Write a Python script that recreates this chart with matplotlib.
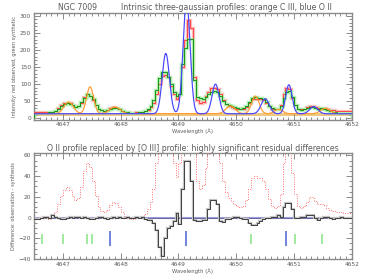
import numpy as np
import matplotlib
matplotlib.use("Agg")
import matplotlib.pyplot as plt
from matplotlib.ticker import MultipleLocator

# wavelength bins (Angstrom)
W0, DW = 4646.5, 0.05

# observed spectrum (red) per bin
obs = [17, 17, 17, 17, 17, 16, 18, 22, 30, 38,
       44, 46, 44, 38, 34, 36, 46, 62, 70, 66,
       52, 38, 27, 23, 22, 24, 29, 32, 31, 27,
       22, 18, 17, 16, 16, 17, 17, 18, 20, 25,
       32, 45, 70, 100, 125, 128, 120, 95, 70, 56,
       70, 150, 230, 288, 265, 120, 52, 45, 48, 65,
       78, 88, 90, 85, 70, 52, 42, 36, 33, 30,
       28, 27, 28, 34, 45, 55, 57, 55, 55, 52,
       45, 35, 28, 26, 28, 40, 70, 90, 85, 60,
       40, 28, 26, 28, 32, 37, 37, 33, 30, 30,
       29, 26, 24, 23, 22, 22, 22, 21, 21, 21]

# synthetic spectrum (green) per bin
syn = [15, 15, 15, 15, 16, 17, 18, 21, 28, 36,
       42, 45, 43, 38, 33, 37, 47, 60, 70, 65,
       55, 40, 28, 24, 22, 25, 28, 31, 31, 27,
       22, 19, 17, 16, 16, 16, 17, 18, 21, 27,
       35, 52, 82, 118, 135, 136, 122, 100, 78, 64,
       72, 160, 205, 232, 232, 112, 62, 58, 57, 62,
       72, 78, 80, 78, 65, 50, 42, 38, 35, 32,
       30, 28, 29, 36, 48, 58, 62, 60, 58, 55,
       48, 37, 30, 27, 28, 36, 60, 78, 80, 62,
       40, 27, 25, 28, 30, 33, 34, 31, 28, 29,
       27, 25, 21, 18, 17, 16, 16, 15, 15, 15]

# residual: observation - synthesis ([O III] profile for O II)
resid = [-1, -1, 0, 1, 1, 0, 2, 1, 0, -1,
         -1, 0, 1, 0, 1, 1, 0, 1, 0, -1,
         -1, 0, 1, 1, 0, -1, 0, 1, 0, 1,
         0, 0, 1, 0, 0, 1, 0, 1, -1, -2,
         -2, -5, -12, -28, -37, -20, -10, -8, -3, 4,
         -6, 28, 55, 55, 35, -2, -3, -3, -2, -2,
         8, 17, 17, 13, -3, -4, -1, -1, 0, 1,
         1, 0, -1, -1, -5, -7, -7, -5, -3, -1,
         0, 0, 1, 1, 2, 1, 10, 14, 14, 8,
         0, 0, 1, 1, 2, 2, 2, 0, -2, 0,
         1, 1, 0, -1, 0, 0, 1, 0, 0, 0]

CONT = 13.0        # continuum under intrinsic profiles
CONT_RES = 17.0    # continuum removed for dotted curve
BASE = 11.0        # thick baseline

# intrinsic gaussian components: centre, amplitude, sigma
c3_pos = [4647.10, 4647.47, 4647.90, 4649.90, 4650.33, 4650.73, 4651.54]
c3_amp = [35, 79, 20, 23, 52, 13, 16]
c3_sig = [0.080, 0.060, 0.090, 0.080, 0.065, 0.070, 0.080]

o2_pos = [4648.78, 4649.14, 4649.64, 4650.50, 4650.91, 4651.34]
o2_amp = [177, 330, 87, 44, 85, 21]
o2_sig = [0.062, 0.060, 0.060, 0.070, 0.055, 0.070]

# line markers in lower panel
green_marks = [4646.63, 4647.01, 4647.42, 4647.51, 4650.26, 4651.02, 4651.49]
blue_marks = [4647.81, 4649.13, 4650.86]

TXT = "#5a5a5a"
AX = "#8a8a8a"


def gauss_sum(lam, pos, amp, sig):
    y = np.full_like(lam, CONT)
    for p, a, s in zip(pos, amp, sig):
        y += a * np.exp(-0.5 * ((lam - p) / s) ** 2)
    return y


def style(ax, ymaj, ymin):
    ax.set_xlim(4646.5, 4652.0)
    ax.xaxis.set_major_locator(MultipleLocator(1))
    ax.xaxis.set_minor_locator(MultipleLocator(0.1))
    ax.yaxis.set_major_locator(MultipleLocator(ymaj))
    ax.yaxis.set_minor_locator(MultipleLocator(ymin))
    ax.tick_params(which="both", direction="in", top=True, right=True,
                   colors=AX, labelcolor=TXT, labelsize=4.2, pad=2, width=0.7)
    ax.tick_params(which="major", length=4.5)
    ax.tick_params(which="minor", length=2.5)
    for s in ax.spines.values():
        s.set_color(AX)
        s.set_linewidth(1.0)
    ax.set_xlabel("Wavelength (Å)", fontsize=3.8, color=TXT, labelpad=1)


n = len(obs)
edges = W0 + DW * np.arange(n + 1)
lam = np.linspace(4646.5, 4652.0, 1500)

fig = plt.figure(figsize=(3.8, 2.8), dpi=100)
ax1 = fig.add_axes([0.0895, 0.573, 0.8365, 0.380])
ax2 = fig.add_axes([0.0895, 0.075, 0.8365, 0.3775])

# upper panel
ax1.axhline(BASE, color="#ecc883", lw=2.2, zorder=1)
ax1.stairs(obs, edges, color="#ffbcbc", lw=2.4, zorder=2)
ax1.stairs(syn, edges, color="#aef0ae", lw=2.4, zorder=2)
ax1.stairs(obs, edges, color="#ff4444", lw=0.7, zorder=3)
ax1.stairs(syn, edges, color="#1a931a", lw=0.7, zorder=4)
ax1.plot(lam, gauss_sum(lam, c3_pos, c3_amp, c3_sig), color="#ff9a2e", lw=0.85, zorder=5)
ax1.plot(lam, gauss_sum(lam, o2_pos, o2_amp, o2_sig), color="#4545ff", lw=0.85, zorder=6)
ax1.set_ylim(-4, 308)
style(ax1, 50, 10)
ax1.set_ylabel("Intensity: red observed, green synthetic", fontsize=3.6, color=TXT, labelpad=2)
fig.text(0.205, 0.975, "NGC 7009", fontsize=5.6, color=TXT, ha="center", va="center")
fig.text(0.595, 0.975, "Intrinsic three-gaussian profiles: orange C III, blue O II",
         fontsize=5.6, color=TXT, ha="center", va="center")

# lower panel
dotted = np.array(obs) - CONT_RES
ax2.axhline(0, color="#9c9cd6", lw=1.5, zorder=1)
ax2.axhline(0, color="#404080", lw=0.4, zorder=1)
ax2.stairs(dotted, edges, color="#ff7070", lw=0.7, ls=(0, (1, 1.5)), zorder=2)
ax2.stairs(resid, edges, color="#c4c4c4", lw=1.6, zorder=3)
ax2.stairs(resid, edges, color="#2a2a2a", lw=0.6, zorder=4)
ax2.vlines(green_marks, -26, -16, color="#86e486", lw=1.1, zorder=5)
ax2.vlines(blue_marks, -27, -13, color="#4a62d0", lw=1.1, zorder=5)
ax2.set_ylim(-40, 62)
style(ax2, 20, 5)
ax2.set_ylabel("Difference: observation - synthesis", fontsize=3.6, color=TXT, labelpad=2)
ax2.set_title("O II profile replaced by [O III] profile: highly significant residual differences",
              fontsize=5.6, color=TXT, pad=2)

fig.savefig("out.png", dpi=100)
